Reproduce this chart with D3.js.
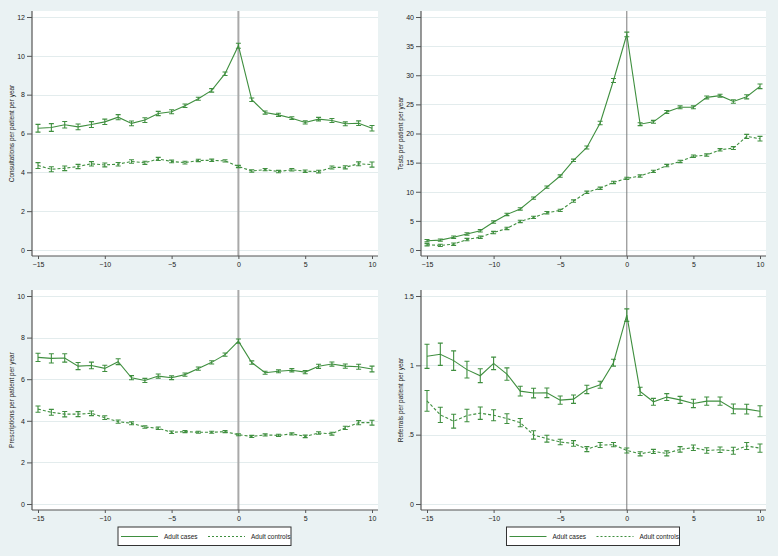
<!DOCTYPE html>
<html>
<head>
<meta charset="utf-8">
<script src="https://cdn.jsdelivr.net/npm/d3@7"></script>
<style>
  body { margin: 0; background: #eaf2f3; }
  svg { display: block; font-family: "Liberation Sans", Arial, sans-serif; }
</style>
</head>
<body>
<svg id="chart" width="778" height="556"></svg>
<script>
// years relative to diagnosis
const years = d3.range(-15, 11);

// consultations
const consCases = [6.27,6.31,6.45,6.34,6.46,6.60,6.84,6.52,6.69,7.03,7.12,7.43,7.79,8.22,9.08,10.52,7.74,7.08,6.96,6.79,6.57,6.74,6.67,6.50,6.53,6.27];
const consCasesErr = [0.2,0.2,0.17,0.15,0.15,0.14,0.13,0.12,0.12,0.11,0.1,0.09,0.08,0.09,0.09,0.13,0.09,0.08,0.08,0.07,0.08,0.09,0.1,0.1,0.12,0.14];
const consControls = [4.35,4.16,4.21,4.30,4.44,4.38,4.42,4.56,4.49,4.69,4.56,4.50,4.61,4.62,4.59,4.30,4.07,4.14,4.04,4.13,4.06,4.04,4.25,4.26,4.44,4.40];
const consControlsErr = [0.15,0.13,0.12,0.11,0.11,0.1,0.09,0.09,0.08,0.08,0.07,0.07,0.06,0.06,0.06,0.06,0.06,0.06,0.06,0.06,0.06,0.07,0.08,0.08,0.1,0.13];

// tests
const testCases = [1.6,1.7,2.2,2.75,3.3,4.8,6.1,7.05,8.9,10.8,12.7,15.4,17.6,21.8,29.1,37.0,21.6,22.0,23.7,24.5,24.5,26.2,26.5,25.5,26.3,28.1];
const testCasesErr = [0.2,0.2,0.2,0.2,0.2,0.2,0.2,0.2,0.2,0.2,0.2,0.2,0.25,0.3,0.35,0.4,0.25,0.25,0.25,0.25,0.25,0.25,0.25,0.3,0.35,0.4];
const testControls = [0.9,0.8,1.0,1.8,2.2,3.0,3.7,4.9,5.6,6.4,6.8,8.4,9.9,10.6,11.6,12.3,12.7,13.5,14.5,15.2,16.1,16.3,17.2,17.5,19.5,19.1];
const testControlsErr = [0.2,0.2,0.2,0.2,0.2,0.2,0.2,0.2,0.2,0.2,0.2,0.2,0.2,0.2,0.2,0.2,0.2,0.2,0.2,0.2,0.2,0.2,0.2,0.25,0.35,0.4];

// prescriptions
const rxCases = [7.05,7.0,7.02,6.63,6.66,6.52,6.84,6.07,5.94,6.15,6.07,6.22,6.51,6.81,7.18,7.83,6.80,6.31,6.38,6.43,6.34,6.62,6.73,6.63,6.60,6.49];
const rxCasesErr = [0.2,0.22,0.2,0.17,0.16,0.15,0.14,0.1,0.1,0.1,0.09,0.08,0.08,0.08,0.08,0.1,0.08,0.07,0.07,0.08,0.08,0.1,0.1,0.1,0.12,0.14];
const rxControls = [4.56,4.41,4.32,4.32,4.36,4.15,3.96,3.88,3.70,3.64,3.45,3.48,3.45,3.45,3.48,3.33,3.25,3.32,3.30,3.37,3.25,3.41,3.38,3.66,3.91,3.91];
const rxControlsErr = [0.15,0.14,0.13,0.12,0.11,0.09,0.08,0.07,0.06,0.06,0.06,0.05,0.05,0.05,0.05,0.05,0.05,0.05,0.05,0.05,0.06,0.06,0.07,0.08,0.1,0.12];

// referrals
const refCases = [1.065,1.08,1.034,0.969,0.925,1.014,0.937,0.814,0.80,0.802,0.749,0.756,0.826,0.86,1.019,1.362,0.812,0.737,0.771,0.751,0.725,0.742,0.742,0.686,0.684,0.669];
const refCasesErr = [0.087,0.08,0.07,0.06,0.05,0.045,0.045,0.035,0.035,0.035,0.03,0.03,0.03,0.025,0.025,0.045,0.03,0.025,0.025,0.025,0.03,0.03,0.03,0.035,0.035,0.04];
const refControls = [0.744,0.643,0.597,0.638,0.655,0.64,0.616,0.587,0.498,0.471,0.447,0.437,0.396,0.425,0.428,0.386,0.362,0.379,0.365,0.394,0.406,0.386,0.391,0.384,0.418,0.403];
const refControlsErr = [0.075,0.055,0.05,0.045,0.045,0.04,0.035,0.03,0.03,0.025,0.02,0.02,0.018,0.018,0.015,0.018,0.015,0.015,0.018,0.02,0.02,0.02,0.02,0.025,0.025,0.03];

const xTicks = [-15, -10, -5, 0, 5, 10];
const legendLabels = ["Adult cases", "Adult controls"];

const green = "#3f8f3f";
const svg = d3.select("#chart");

const panels = [
  { box: [32, 11, 378, 256], title: "Consultations per patient per year", ymax: 12, yTicks: [0,2,4,6,8,10,12], fmt: d => d,
    cases: consCases, casesErr: consCasesErr, controls: consControls, controlsErr: consControlsErr, zeroStyle: "thick", legend: false },
  { box: [421, 11, 766, 256], title: "Tests per patient per year", ymax: 40, yTicks: [0,5,10,15,20,25,30,35,40], fmt: d => d,
    cases: testCases, casesErr: testCasesErr, controls: testControls, controlsErr: testControlsErr, zeroStyle: "thin", legend: false },
  { box: [32, 290, 378, 510], title: "Prescriptions per patient per year", ymax: 10, yTicks: [0,2,4,6,8,10], fmt: d => d,
    cases: rxCases, casesErr: rxCasesErr, controls: rxControls, controlsErr: rxControlsErr, zeroStyle: "thick", legend: true },
  { box: [421, 290, 766, 510], title: "Referrals per patient per year", ymax: 1.5, yTicks: [0,0.5,1,1.5], fmt: d => String(d).replace(/^0\./, "."),
    cases: refCases, casesErr: refCasesErr, controls: refControls, controlsErr: refControlsErr, zeroStyle: "thin", legend: true }
];

panels.forEach(p => {
  const [L, T, R, B] = p.box;
  const pad = 6;
  const x = d3.scaleLinear().domain([-15, 10]).range([L + pad, R - pad]);
  const y = d3.scaleLinear().domain([0, p.ymax]).range([B - pad, T + pad]);
  const g = svg.append("g");

  g.append("rect").attr("x", L).attr("y", T).attr("width", R - L).attr("height", B - T).attr("fill", "#fff");

  // gridlines
  g.selectAll(".grid").data(p.yTicks).enter().append("line")
    .attr("x1", L).attr("x2", R)
    .attr("y1", d => Math.round(y(d)) + 0.5).attr("y2", d => Math.round(y(d)) + 0.5)
    .attr("stroke", "#e3eced").attr("stroke-width", 1);

  // reference line at 0
  g.append("line")
    .attr("x1", x(0)).attr("x2", x(0)).attr("y1", T).attr("y2", B)
    .attr("stroke", p.zeroStyle === "thick" ? "#a9a9a9" : "#7a7a7a")
    .attr("stroke-width", p.zeroStyle === "thick" ? 2 : 1);

  // axes
  const yAxis = g.append("g").attr("transform", `translate(${L},0)`)
    .call(d3.axisLeft(y).tickValues(p.yTicks).tickFormat(p.fmt).tickSize(5).tickPadding(2));
  const xAxis = g.append("g").attr("transform", `translate(0,${B})`)
    .call(d3.axisBottom(x).tickValues(xTicks).tickSize(3).tickPadding(3));
  [yAxis, xAxis].forEach(a => {
    a.select(".domain").attr("stroke", "#555").attr("stroke-width", 1.2);
    a.selectAll(".tick line").attr("stroke", "#555");
    a.selectAll("text").attr("font-size", 7).attr("fill", "#222").attr("font-family", "Liberation Sans, Arial, sans-serif");
  });
  // Stata axes run the full plot region
  yAxis.select(".domain").attr("d", `M0,${T}V${B}`);
  xAxis.select(".domain").attr("d", `M${L},0H${R}`);

  g.append("text")
    .attr("transform", `translate(${L - 20},${(T + B) / 2}) rotate(-90)`)
    .attr("text-anchor", "middle").attr("dominant-baseline", "middle")
    .attr("font-size", 6.5).attr("fill", "#222")
    .text(p.title);

  const series = [
    { vals: p.cases, err: p.casesErr, dash: null },
    { vals: p.controls, err: p.controlsErr, dash: "3,2" }
  ];
  const line = d3.line().x((d, i) => x(years[i])).y(d => y(d));

  series.forEach(s => {
    g.append("path").datum(s.vals)
      .attr("d", line).attr("fill", "none")
      .attr("stroke", green).attr("stroke-width", 1.1)
      .attr("stroke-dasharray", s.dash);
    const eb = g.append("g").attr("stroke", green).attr("stroke-width", 1.1).attr("fill", "none");
    s.vals.forEach((v, i) => {
      const cx = x(years[i]);
      const lo = y(v - s.err[i]), hi = y(v + s.err[i]);
      eb.append("path").attr("d", `M${cx},${lo}V${hi}M${cx - 2.5},${lo}H${cx + 2.5}M${cx - 2.5},${hi}H${cx + 2.5}`);
    });
  });

  if (p.legend) {
    const lx = (L + R) / 2 - 87, ly = 527;
    const lg = g.append("g").attr("transform", `translate(${lx},${ly})`);
    lg.append("rect").attr("width", 173).attr("height", 18.5).attr("fill", "#fff").attr("stroke", "#333").attr("stroke-width", 1);
    lg.append("line").attr("x1", 3).attr("x2", 40).attr("y1", 9.5).attr("y2", 9.5).attr("stroke", green).attr("stroke-width", 1.1);
    lg.append("text").attr("x", 46).attr("y", 12).attr("font-size", 6.5).attr("fill", "#222").text(legendLabels[0]);
    lg.append("line").attr("x1", 90).attr("x2", 127).attr("y1", 9.5).attr("y2", 9.5).attr("stroke", green).attr("stroke-width", 1.1).attr("stroke-dasharray", "2,2");
    lg.append("text").attr("x", 133).attr("y", 12).attr("font-size", 6.5).attr("fill", "#222").text(legendLabels[1]);
  }
});
</script>
</body>
</html>
